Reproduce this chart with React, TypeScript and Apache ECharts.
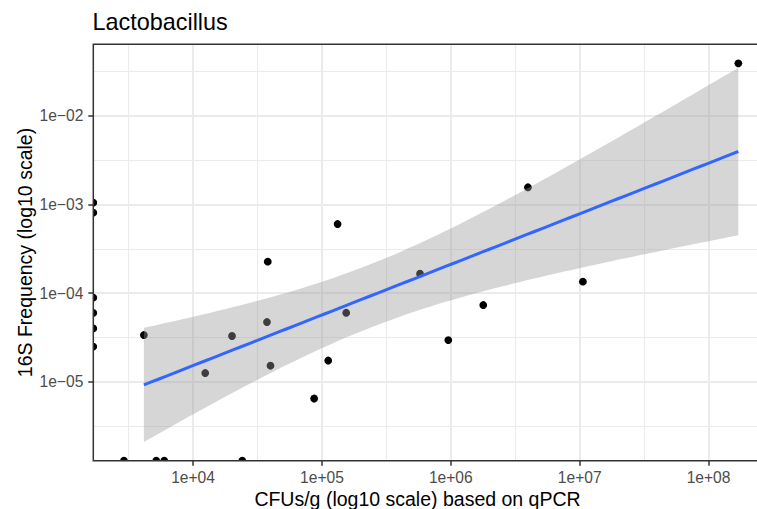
import React, { useEffect, useRef } from "react";
import * as echarts from "echarts";

// ---- texts ----
const chartTitle = "Lactobacillus";
const xAxisTitle = "CFUs/g (log10 scale) based on qPCR";
const yAxisTitle = "16S Frequency (log10 scale)";

// ---- samples (0 = not detected; drawn at the panel edge like ggplot's -Inf) ----
const cfuPerGram = [
  0, 0, 0, 0, 0, 0,
  2910, 5180, 5980, 24100,
  4155, 20060, 12430, 39890, 37460, 132300, 37990, 154300, 111900, 87000,
  3967000, 577000, 1786000, 956000, 10590000, 170200000,
];
const freq16S = [
  1.05e-3, 8.1e-4, 8.9e-5, 6.0e-5, 4.0e-5, 2.5e-5,
  0, 0, 0, 0,
  3.375e-5, 3.29e-5, 1.257e-5, 1.52e-5, 4.73e-5, 6.04e-4, 2.27e-4, 6.01e-5, 1.74e-5, 6.48e-6,
  1.568e-3, 1.66e-4, 7.36e-5, 2.96e-5, 1.35e-4, 3.93e-2,
];

// ---- ticks ----
const xTickValues = [1e4, 1e5, 1e6, 1e7, 1e8];
const xTickLabels = ["1e+04", "1e+05", "1e+06", "1e+07", "1e+08"];
const yTickValues = [1e-5, 1e-4, 1e-3, 1e-2];
const yTickLabels = ["1e\u221205", "1e\u221204", "1e\u221203", "1e\u221202"];
const xMinorValues = [10 ** 3.5, 10 ** 4.5, 10 ** 5.5, 10 ** 6.5, 10 ** 7.5];
const yMinorValues = [10 ** -5.5, 10 ** -4.5, 10 ** -3.5, 10 ** -2.5, 10 ** -1.5];

// panel limits (log10 units)
const X_LIM = [3.226, 8.469];
const Y_LIM = [-5.89, -1.191];

const T_975_DF14 = 2.144787;
const FONT = "'Liberation Sans', Arial, Helvetica, sans-serif";

function buildFit() {
  const lx: number[] = [];
  const ly: number[] = [];
  for (let i = 0; i < cfuPerGram.length; i++) {
    if (cfuPerGram[i] > 0 && freq16S[i] > 0) {
      lx.push(Math.log10(cfuPerGram[i]));
      ly.push(Math.log10(freq16S[i]));
    }
  }
  const n = lx.length;
  const mx = lx.reduce((a, b) => a + b, 0) / n;
  const my = ly.reduce((a, b) => a + b, 0) / n;
  let sxx = 0, sxy = 0;
  for (let i = 0; i < n; i++) {
    sxx += (lx[i] - mx) ** 2;
    sxy += (lx[i] - mx) * (ly[i] - my);
  }
  const b = sxy / sxx;
  const a = my - b * mx;
  let sse = 0;
  for (let i = 0; i < n; i++) sse += (ly[i] - (a + b * lx[i])) ** 2;
  const s = Math.sqrt(sse / (n - 2));
  const x0 = Math.min(...lx);
  const x1 = Math.max(...lx);
  const line: number[][] = [];
  const upper: number[][] = [];
  const lower: number[][] = [];
  const steps = 80;
  for (let k = 0; k < steps; k++) {
    const x = x0 + ((x1 - x0) * k) / (steps - 1);
    const yhat = a + b * x;
    const se = s * Math.sqrt(1 / n + (x - mx) ** 2 / sxx);
    line.push([x, yhat]);
    upper.push([x, yhat + T_975_DF14 * se]);
    lower.push([x, yhat - T_975_DF14 * se]);
  }
  return { line, upper, lower };
}

const clampLog = (v: number, lim: number[]) => {
  const l = v > 0 ? Math.log10(v) : -Infinity;
  return Math.max(lim[0], Math.min(lim[1], l));
};

export default function App() {
  const ref = useRef<HTMLDivElement>(null);

  useEffect(() => {
    if (!ref.current) return;
    const chart = echarts.init(ref.current, undefined, { renderer: "svg" });
    const fit = buildFit();
    const pts = cfuPerGram.map((c, i) => [clampLog(c, X_LIM), clampLog(freq16S[i], Y_LIM)]);
    const xTicksLog = xTickValues.map((v) => Math.log10(v));
    const yTicksLog = yTickValues.map((v) => Math.log10(v));
    const xLabelOf = (v: number) => {
      const i = xTicksLog.findIndex((t) => Math.abs(t - v) < 1e-6);
      return i >= 0 ? xTickLabels[i] : "";
    };
    const yLabelOf = (v: number) => {
      const i = yTicksLog.findIndex((t) => Math.abs(t - v) < 1e-6);
      return i >= 0 ? yTickLabels[i] : "";
    };
    const majorSplit = { show: true, lineStyle: { color: "#ebebeb", width: 2 } };
    const minorSplit = { show: true, lineStyle: { color: "#ebebeb", width: 1.1 } };
    const tickStyle = { color: "#333333", width: 1.5 };

    chart.setOption({
      animation: false,
      backgroundColor: "#ffffff",
      grid: {
        left: 93.3,
        top: 44.3,
        right: 1,
        bottom: 48.3,
        show: true,
        z: 10,
        backgroundColor: "transparent",
        borderColor: "#333333",
        borderWidth: 1.5,
      },
      xAxis: [
        {
          type: "value",
          min: X_LIM[0],
          max: X_LIM[1],
          position: "bottom",
          splitNumber: 5,
          axisLine: { show: false },
          axisTick: { show: true, length: 5, lineStyle: tickStyle, customValues: xTicksLog },
          axisLabel: {
            show: true,
            customValues: xTicksLog,
            formatter: xLabelOf,
            color: "#4d4d4d",
            fontSize: 15.6,
            fontFamily: FONT,
            margin: 9,
          },
          splitLine: majorSplit,
        },
        {
          type: "value",
          min: X_LIM[0],
          max: X_LIM[1],
          position: "bottom",
          splitNumber: 10,
          axisLine: { show: false },
          axisTick: { show: false, customValues: xMinorValues.map((v) => Math.log10(v)) },
          axisLabel: { show: false, customValues: xMinorValues.map((v) => Math.log10(v)) },
          splitLine: minorSplit,
        },
      ],
      yAxis: [
        {
          type: "value",
          min: Y_LIM[0],
          max: Y_LIM[1],
          position: "left",
          splitNumber: 5,
          axisLine: { show: false },
          axisTick: { show: true, length: 5, lineStyle: tickStyle, customValues: yTicksLog },
          axisLabel: {
            show: true,
            customValues: yTicksLog,
            formatter: yLabelOf,
            color: "#4d4d4d",
            fontSize: 15.6,
            fontFamily: FONT,
            margin: 10,
          },
          splitLine: majorSplit,
        },
        {
          type: "value",
          min: Y_LIM[0],
          max: Y_LIM[1],
          position: "left",
          splitNumber: 10,
          axisLine: { show: false },
          axisTick: { show: false, customValues: yMinorValues.map((v) => Math.log10(v)) },
          axisLabel: { show: false, customValues: yMinorValues.map((v) => Math.log10(v)) },
          splitLine: minorSplit,
        },
      ],
      series: [
        {
          type: "custom",
          name: "points",
          xAxisIndex: 0,
          yAxisIndex: 0,
          clip: true,
          z: 2,
          data: pts,
          encode: { x: 0, y: 1 },
          renderItem: (_params: any, api: any) => {
            const c = api.coord([api.value(0), api.value(1)]);
            return {
              type: "circle",
              shape: { cx: c[0], cy: c[1], r: 3.9 },
              style: { fill: "#000000" },
            };
          },
        },
        {
          type: "custom",
          name: "ci",
          xAxisIndex: 0,
          yAxisIndex: 0,
          clip: true,
          z: 3,
          data: [[fit.line[0][0], fit.line[0][1]]],
          encode: { x: 0, y: 1 },
          renderItem: (_params: any, api: any) => {
            const poly = fit.upper
              .map((p) => api.coord(p))
              .concat(fit.lower.slice().reverse().map((p) => api.coord(p)));
            return {
              type: "polygon",
              shape: { points: poly },
              style: { fill: "#999999", opacity: 0.4 },
            };
          },
        },
        {
          type: "line",
          name: "fit",
          xAxisIndex: 0,
          yAxisIndex: 0,
          z: 4,
          data: fit.line,
          showSymbol: false,
          symbol: "none",
          lineStyle: { color: "#3366FF", width: 3 },
          itemStyle: { color: "#3366FF" },
        },
      ],
      graphic: [
        {
          type: "text",
          x: 92.5,
          y: 22.3,
          style: {
            text: chartTitle,
            fontSize: 23.4,
            fontFamily: FONT,
            fill: "#000000",
            align: "left",
            verticalAlign: "middle",
            textAlign: "left",
            textVerticalAlign: "middle",
          },
        },
        {
          type: "text",
          x: 417.5,
          y: 498.5,
          style: {
            text: xAxisTitle,
            fontSize: 19.5,
            fontFamily: FONT,
            fill: "#000000",
            align: "center",
            verticalAlign: "middle",
            textAlign: "center",
            textVerticalAlign: "middle",
          },
        },
        {
          type: "text",
          x: 25,
          y: 252.5,
          rotation: Math.PI / 2,
          style: {
            text: yAxisTitle,
            fontSize: 19.5,
            fontFamily: FONT,
            fill: "#000000",
            align: "center",
            verticalAlign: "middle",
            textAlign: "center",
            textVerticalAlign: "middle",
          },
        },
      ],
    });

    return () => chart.dispose();
  }, []);

  return (
    <div
      ref={ref}
      style={{ position: "fixed", left: 0, top: 0, width: 770, height: 509 }}
    />
  );
}
